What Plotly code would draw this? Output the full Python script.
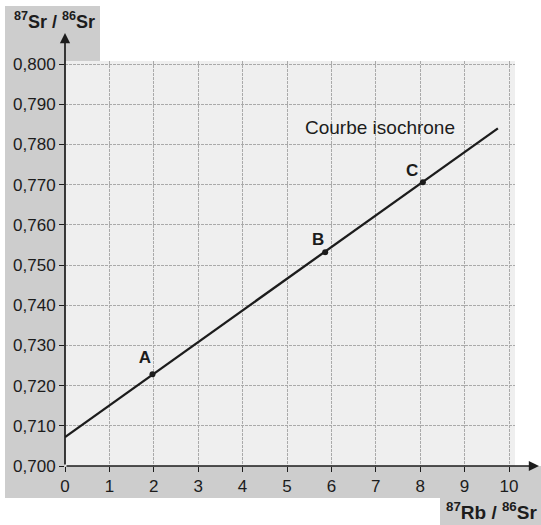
import plotly.graph_objects as go

# Data
line_x = [0.0, 9.75]
line_y = [0.7072, 0.7840]
point_names = ["A", "B", "C"]
point_x = [1.97, 5.86, 8.06]
point_y = [0.7228, 0.7532, 0.7706]
label_x = [1.80, 5.70, 7.82]
label_y = [0.7268, 0.7561, 0.7731]
x_ticks = list(range(0, 11))
y_ticks = [0.70, 0.71, 0.72, 0.73, 0.74, 0.75, 0.76, 0.77, 0.78, 0.79, 0.80]
curve_label = "Courbe isochrone"

W, H = 541, 525
L, R, T, B = 65, 26, 61, 59
pw, ph = W - L - R, H - T - B

def px(xp):
    return (xp - L) / pw

def py(yp):
    return (H - B - yp) / ph

GRAY = "#cdcdcd"
PLOT = "#efefef"
INK = "#1c1c1c"

fig = go.Figure()
fig.add_trace(go.Scatter(x=line_x, y=line_y, mode="lines",
                         line=dict(color=INK, width=2.3), showlegend=False, hoverinfo="skip"))
fig.add_trace(go.Scatter(x=point_x, y=point_y, mode="markers",
                         marker=dict(color=INK, size=6), showlegend=False))
fig.add_trace(go.Scatter(x=label_x, y=label_y, mode="text", text=point_names,
                         textfont=dict(family="Liberation Sans, Arial", size=17, color=INK),
                         texttemplate="<b>%{text}</b>", showlegend=False, hoverinfo="skip"))

shapes = [
    dict(type="rect", xref="paper", yref="paper", x0=px(5), x1=px(100), y0=py(61), y1=py(6),
         fillcolor=GRAY, line_width=0, layer="below"),
    dict(type="rect", xref="paper", yref="paper", x0=px(5), x1=px(65), y0=py(498), y1=py(61),
         fillcolor=GRAY, line_width=0, layer="below"),
    dict(type="rect", xref="paper", yref="paper", x0=px(5), x1=px(541), y0=py(498), y1=py(466),
         fillcolor=GRAY, line_width=0, layer="below"),
    dict(type="rect", xref="paper", yref="paper", x0=px(440), x1=px(541), y0=py(525), y1=py(497),
         fillcolor=GRAY, line_width=0, layer="below"),
]

annotations = [
    dict(x=px(539), y=0.7, xref="paper", yref="y", ax=-(539 - L), ay=0, text="",
         showarrow=True, arrowhead=2, arrowsize=1.2, arrowwidth=1.7, arrowcolor=INK, standoff=0),
    dict(x=0, y=py(33), xref="x", yref="paper", ax=0, ay=(H - B - 33), text="",
         showarrow=True, arrowhead=2, arrowsize=1.2, arrowwidth=1.7, arrowcolor=INK, standoff=0),
    dict(x=px(12), y=py(20), xref="paper", yref="paper", xanchor="left", yanchor="middle",
         text="<b><sup>87</sup>Sr / <sup>86</sup>Sr</b>", showarrow=False,
         font=dict(family="Liberation Sans, Arial", size=18, color=INK)),
    dict(x=px(539), y=py(511), xref="paper", yref="paper", xanchor="right", yanchor="middle",
         text="<b><sup>87</sup>Rb / <sup>86</sup>Sr</b>", showarrow=False,
         font=dict(family="Liberation Sans, Arial", size=19, color=INK)),
    dict(x=7.09, y=0.7843, xref="x", yref="y", text=curve_label, showarrow=False,
         font=dict(family="Liberation Sans, Arial", size=19, color=INK)),
]

fig.update_layout(
    width=W, height=H,
    margin=dict(l=L, r=R, t=T, b=B, pad=0),
    paper_bgcolor="white", plot_bgcolor=PLOT,
    separators=", ",
    font=dict(family="Liberation Sans, Arial", size=17, color=INK),
    shapes=shapes, annotations=annotations, showlegend=False,
    xaxis=dict(range=[0, pw / 44.4], tickvals=x_ticks, ticks="outside", ticklen=5,
               tickwidth=1.3, tickcolor=INK, showline=False, zeroline=False,
               showgrid=True, gridcolor="#aaaaaa", gridwidth=1, griddash="3px,1px",
               tickfont=dict(size=17)),
    yaxis=dict(range=[0.700, 0.700 + ph / 4020.0], tickvals=y_ticks, tickformat=".3f",
               ticks="outside", ticklen=5, tickwidth=1.3, tickcolor=INK, showline=False,
               zeroline=False, showgrid=True, gridcolor="#aaaaaa", gridwidth=1,
               griddash="3px,1px", tickfont=dict(size=17)),
)

fig.write_html("out.html")
